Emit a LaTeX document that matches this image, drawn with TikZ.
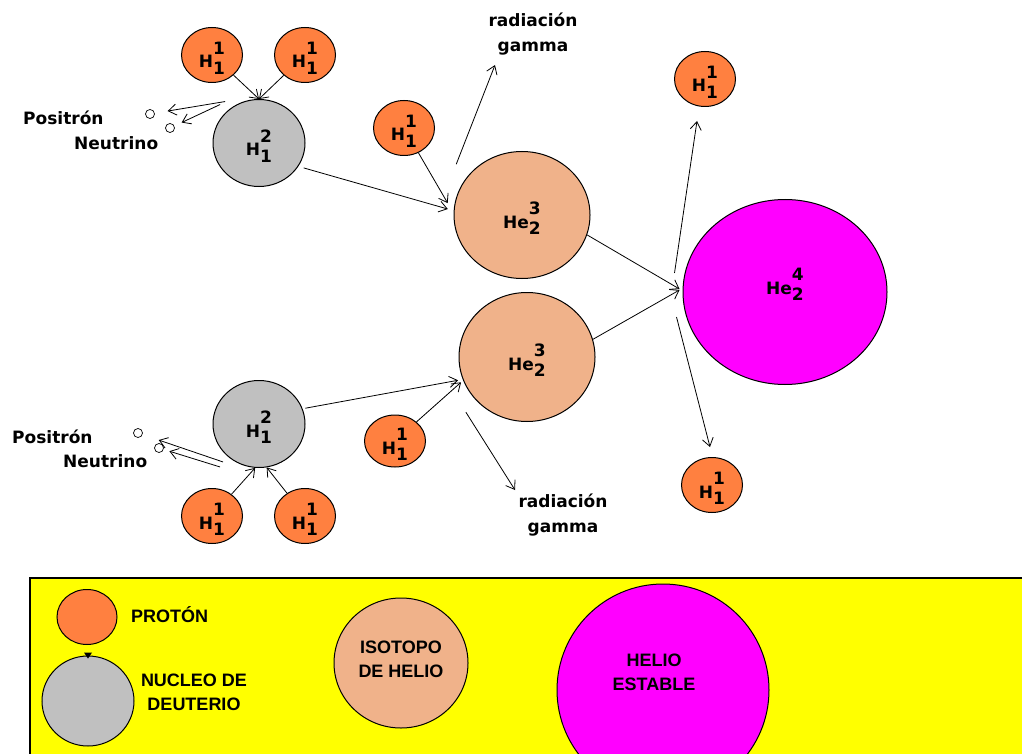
\documentclass[tikz,border=0pt]{standalone}
\usepackage{fontspec}
\setmainfont{DejaVu Sans}
\newfontfamily\legfam{Liberation Sans}
\usetikzlibrary{shapes.geometric,arrows.meta,calc}
\definecolor{cProton}{RGB}{255,128,64}
\definecolor{cDeut}{RGB}{192,192,192}
\definecolor{cHeThree}{RGB}{240,178,138}
\definecolor{cHeFour}{RGB}{255,0,255}
\definecolor{cLegend}{RGB}{255,255,0}
\newcommand{\lblfont}{\fontsize{17}{25}\selectfont\bfseries}
\newcommand{\legfont}{\legfam\fontsize{18}{24}\selectfont\bfseries}
\newcommand{\nucl}[3]{#1\rlap{\raisebox{.8em}{#2}}\raisebox{-.4em}{#3}}
\tikzset{
  basecirc/.style={ellipse,draw=black,line width=1pt,inner sep=0pt,
                   font=\lblfont,text height=26pt,text depth=0pt},
  protnode/.style={basecirc,fill=cProton,minimum width=61pt,minimum height=55pt},
  deutnode/.style={basecirc,fill=cDeut,minimum width=92pt,minimum height=87pt},
  he3node/.style={basecirc,fill=cHeThree,minimum width=136pt,minimum height=127pt},
  he4node/.style={basecirc,fill=cHeFour,minimum width=204pt,minimum height=185pt,
                  text height=14pt,text depth=10pt},
  partnode/.style={circle,draw=black,line width=.7pt,fill=white,inner sep=0pt,
                   minimum size=9pt},
  lbl/.style={font=\lblfont,align=center,inner sep=0pt},
  leglbl/.style={font=\legfont,align=center,inner sep=0pt},
  arr/.style={->,>={Straight Barb[length=8pt,width=11pt]},line width=.8pt}
}
\begin{document}
\begin{tikzpicture}[x=1pt,y=-1pt]
  \useasboundingbox (0,0) rectangle (1022,754);

  % upper chain
  \node[protnode] (p1) at (212,55) {\nucl{H}{1}{1}};
  \node[protnode] (p2) at (305,55) {\nucl{H}{1}{1}};
  \node[deutnode] (d1) at (259,143) {\nucl{H}{2}{1}};
  \node[protnode] (p3) at (404,128) {\nucl{H}{1}{1}};
  \node[he3node] (he3a) at (522,215) {\nucl{He}{3}{2}};
  \node[partnode] (pos1) at (150,114) {};
  \node[partnode] (neu1) at (170,128) {};
  \node[lbl,anchor=west] (tpos1) at (23,118) {Positrón};
  \node[lbl,anchor=west] (tneu1) at (74,143) {Neutrino};
  \node[lbl] (gam1) at (533,34) {radiación\\gamma};
  \coordinate (g1) at (495,65);

  % lower chain
  \node[protnode] (p7) at (212,516) {\nucl{H}{1}{1}};
  \node[protnode] (p8) at (305,516) {\nucl{H}{1}{1}};
  \node[deutnode] (d2) at (259,424) {\nucl{H}{2}{1}};
  \node[protnode,minimum height=52pt] (p4) at (395,441) {\nucl{H}{1}{1}};
  \node[he3node,minimum height=129pt] (he3b) at (527,357) {\nucl{He}{3}{2}};
  \node[partnode] (pos2) at (138,433) {};
  \node[partnode] (neu2) at (159,448) {};
  \node[lbl,anchor=west] (tpos2) at (12,437) {Positrón};
  \node[lbl,anchor=west] (tneu2) at (63,461) {Neutrino};
  \node[lbl] (gam2) at (563,515) {radiación\\gamma};
  \coordinate (g2) at (515,490);

  % helium 4
  \node[he4node] (he4) at (785,292) {\nucl{He}{4}{2}};
  \node[protnode] (p5) at (705,79) {\nucl{H}{1}{1}};
  \node[protnode] (p6) at (712,485) {\nucl{H}{1}{1}};

  % connectors
  \draw[arr] (p1) -- (d1.north);
  \draw[arr] (p2) -- (d1.north);
  \draw[arr,shorten >=13pt] ([shift={(-5,-7)}]d1.130) -- (pos1);
  \draw[arr,shorten >=8pt] ([shift={(-10,-4)}]d1.130) -- (neu1);
  \draw[arr] ([shift={(5,2)}]d1.-30) -- ([shift={(-6,0)}]he3a.175);
  \draw[arr] (p3) -- ([shift={(-7,0)}]he3a.170);
  \draw[arr] ([shift={(-19,-4)}]he3a.135) -- (g1);
  \draw[arr] (he3a.-17) -- ([shift={(-3,-3)}]he4.west);

  \draw[arr] (p7) -- (d2.265);
  \draw[arr] (p8) -- (d2.280);
  \draw[arr,shorten >=17pt] ([shift={(-4,6)}]d2.225) -- (pos2);
  \draw[arr,shorten >=6pt] ([shift={(-7,11)}]d2.225) -- (neu2);
  \draw[arr] ([shift={(3,0)}]d2.20) -- ([shift={(-5,0)}]he3b.200);
  \draw[arr] (p4) -- ([shift={(-2,2)}]he3b.200);
  \draw[arr] ([shift={(-14,8)}]he3b.-135) -- (g2);
  \draw[arr] (he3b.15) -- ([shift={(-3,-2)}]he4.west);

  \draw[arr] ([shift={(-8,-19)}]he4.west) -- ([shift={(-8,14)}]p5.south);
  \draw[arr] ([shift={(-6,25)}]he4.west) -- ([shift={(-2,-10)}]p6.north);

  % legend
  \draw[line width=2pt,fill=cLegend] (30,578) rectangle (1040,770);
  \node[basecirc,fill=cProton,minimum width=60pt,minimum height=55pt] (lp) at (87,617) {};
  \node[basecirc,fill=cDeut,minimum width=92pt,minimum height=90pt] (ld) at (88,701) {};
  \fill ([shift={(-4,-3)}]ld.north) -- ++(8,0) -- ([shift={(0,3)}]ld.north) -- cycle;
  \node[basecirc,fill=cHeThree,minimum width=134pt,minimum height=130pt] (lh3) at (401,663) {};
  \node[basecirc,fill=cHeFour,minimum width=212pt,minimum height=212pt] (lh4) at (663,690) {};
  \node[leglbl,anchor=west] (tlp) at (131,615) {PROTÓN};
  \node[leglbl] (tld) at (194,692) {NUCLEO DE\\DEUTERIO};
  \node[leglbl] (tlh3) at (401,659) {ISOTOPO\\DE HELIO};
  \node[leglbl] (tlh4) at (654,672) {HELIO\\ESTABLE};
\end{tikzpicture}
\end{document}
